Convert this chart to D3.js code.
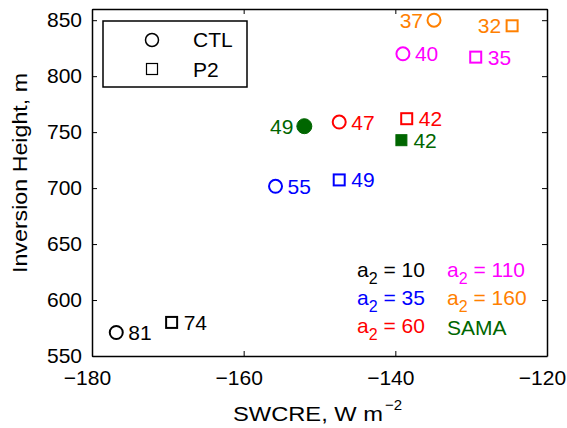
<!DOCTYPE html>
<html>
<head>
<meta charset="utf-8">
<script src="https://cdn.jsdelivr.net/npm/d3@7"></script>
<style>
  body { margin: 0; background: #fff; }
  svg text { font-family: "Liberation Sans", Arial, Helvetica, sans-serif; }
</style>
</head>
<body>
<div id="chart"></div>
<script>
// data
const groups = ["a2 = 10", "a2 = 35", "a2 = 60", "a2 = 110", "a2 = 160", "SAMA"];
const colors = ["#000000", "#0000ff", "#ff0000", "#ff00ff", "#ff8000", "#006600"];
const ctlX = [-176.8, -155.8, -147.4, -139.0, -134.9, -152.0];
const ctlY = [571, 701.6, 759, 820, 850, 755.3];
const ctlLabel = ["81", "55", "47", "40", "37", "49"];
const p2X = [-169.5, -147.4, -138.5, -129.4, -124.6, -139.2];
const p2Y = [580, 707.3, 762, 817, 845, 742.8];
const p2Label = ["74", "49", "42", "35", "32", "42"];
const ctlLeft = [false, false, false, false, true, true];
const p2Left = [false, false, false, false, true, false];
const filled = [false, false, false, false, false, true];
const xTicks = [-180, -160, -140, -120];
const yTicks = [550, 600, 650, 700, 750, 800, 850];

const W = 567, H = 428;
const margin = {top: 9, right: 20, bottom: 72, left: 92};
const width = W - margin.left - margin.right;
const height = H - margin.top - margin.bottom;

const svg = d3.select("#chart").append("svg")
    .attr("width", W)
    .attr("height", H);

const g = svg.append("g")
    .attr("transform", "translate(" + margin.left + "," + margin.top + ")");

const x = d3.scaleLinear().domain([-180, -120]).range([0, width]);
const y = d3.scaleLinear().domain([550, 860]).range([height, 0]);

// axes, matlab style: ticks inside, mirrored on top/right
const fmt = d => d < 0 ? "\u2212" + Math.abs(d) : d;
const xAxis = g.append("g")
    .attr("transform", "translate(0," + height + ")")
    .call(d3.axisBottom(x).tickValues(xTicks).tickSizeInner(-5).tickSizeOuter(0).tickPadding(0).tickFormat(fmt));
const yAxis = g.append("g")
    .call(d3.axisLeft(y).tickValues(yTicks).tickSizeInner(-5).tickSizeOuter(0).tickPadding(10));
const xTop = g.append("g")
    .call(d3.axisTop(x).tickValues(xTicks).tickSizeInner(-5).tickSizeOuter(0).tickFormat(""));
const yRight = g.append("g")
    .attr("transform", "translate(" + width + ",0)")
    .call(d3.axisRight(y).tickValues(yTicks).tickSizeInner(-5).tickSizeOuter(0).tickFormat(""));

[xAxis, yAxis, xTop, yRight].forEach(a => {
    a.select(".domain").attr("stroke", "#000").attr("stroke-width", 1.5);
    a.selectAll(".tick line").attr("stroke", "#000").attr("stroke-width", 1);
    a.selectAll(".tick text").attr("font-size", 21).attr("fill", "#000")
        .style("font-family", "'Liberation Sans', Arial, sans-serif");
});
xAxis.selectAll(".tick text").attr("y", 29).attr("dy", 0).attr("dx", -5);

// axis labels
svg.append("text")
    .attr("x", 233)
    .attr("y", 421)
    .attr("font-size", 21)
    .attr("textLength", 150)
    .attr("lengthAdjust", "spacingAndGlyphs")
    .text("SWCRE, W m");
svg.append("text")
    .attr("x", 385)
    .attr("y", 410)
    .attr("font-size", 15)
    .text("\u22122");

svg.append("text")
    .attr("transform", "translate(27,173) rotate(-90)")
    .attr("text-anchor", "middle")
    .attr("font-size", 21)
    .attr("textLength", 200)
    .attr("lengthAdjust", "spacingAndGlyphs")
    .text("Inversion Height, m");

// points
const pts = [];
groups.forEach((grp, i) => {
    pts.push({exp: "CTL", x: ctlX[i], y: ctlY[i], label: ctlLabel[i], left: ctlLeft[i], color: colors[i], filled: filled[i]});
    pts.push({exp: "P2", x: p2X[i], y: p2Y[i], label: p2Label[i], left: p2Left[i], color: colors[i], filled: filled[i]});
});

g.selectAll(".ctl-mark")
    .data(pts.filter(d => d.exp === "CTL"))
    .enter().append("circle")
    .attr("class", "ctl-mark")
    .attr("cx", d => x(d.x))
    .attr("cy", d => y(d.y))
    .attr("r", d => d.filled ? 7.5 : 6.5)
    .attr("fill", d => d.filled ? d.color : "none")
    .attr("stroke", d => d.color)
    .attr("stroke-width", d => d.filled ? 1 : 2);

g.selectAll(".p2-mark")
    .data(pts.filter(d => d.exp === "P2"))
    .enter().append("rect")
    .attr("class", "p2-mark")
    .attr("x", d => x(d.x) - 5.5)
    .attr("y", d => y(d.y) - 5.5)
    .attr("width", 11)
    .attr("height", 11)
    .attr("fill", d => d.filled ? d.color : "none")
    .attr("stroke", d => d.color)
    .attr("stroke-width", d => d.filled ? 1 : 2);

g.selectAll(".pt-label")
    .data(pts)
    .enter().append("text")
    .attr("class", "pt-label")
    .attr("x", d => x(d.x) + (d.left ? -11 : 12))
    .attr("y", d => y(d.y) + 7.5)
    .attr("text-anchor", d => d.left ? "end" : "start")
    .attr("font-size", 21)
    .attr("fill", d => d.color)
    .text(d => d.label);

// legend
const leg = svg.append("g");
leg.append("rect")
    .attr("x", 103).attr("y", 21)
    .attr("width", 144).attr("height", 66)
    .attr("fill", "#fff").attr("stroke", "#000").attr("stroke-width", 1.5);
leg.append("circle")
    .attr("cx", 152).attr("cy", 40).attr("r", 6.5)
    .attr("fill", "none").attr("stroke", "#000").attr("stroke-width", 1.5);
leg.append("rect")
    .attr("x", 146.5).attr("y", 63.5).attr("width", 11).attr("height", 11)
    .attr("fill", "none").attr("stroke", "#000").attr("stroke-width", 1.2);
leg.append("text").attr("x", 193).attr("y", 47).attr("font-size", 21).text("CTL");
leg.append("text").attr("x", 193).attr("y", 77).attr("font-size", 21).text("P2");

// group key in lower right
const keyX = [357, 357, 357, 447, 447, 447];
const keyRow = [0, 1, 2, 0, 1, 2];
groups.forEach((grp, i) => {
    const t = svg.append("text")
        .attr("x", keyX[i])
        .attr("y", 277 + keyRow[i] * 28 + (grp === "SAMA" ? 2 : 0))
        .attr("font-size", 21)
        .attr("fill", colors[i]);
    if (grp.startsWith("a2")) {
        t.append("tspan").text("a");
        t.append("tspan").attr("dy", 7).attr("font-size", 16).text("2");
        t.append("tspan").attr("dy", -7).text(" = " + grp.split("= ")[1]);
    } else {
        t.text(grp);
    }
});
</script>
</body>
</html>
